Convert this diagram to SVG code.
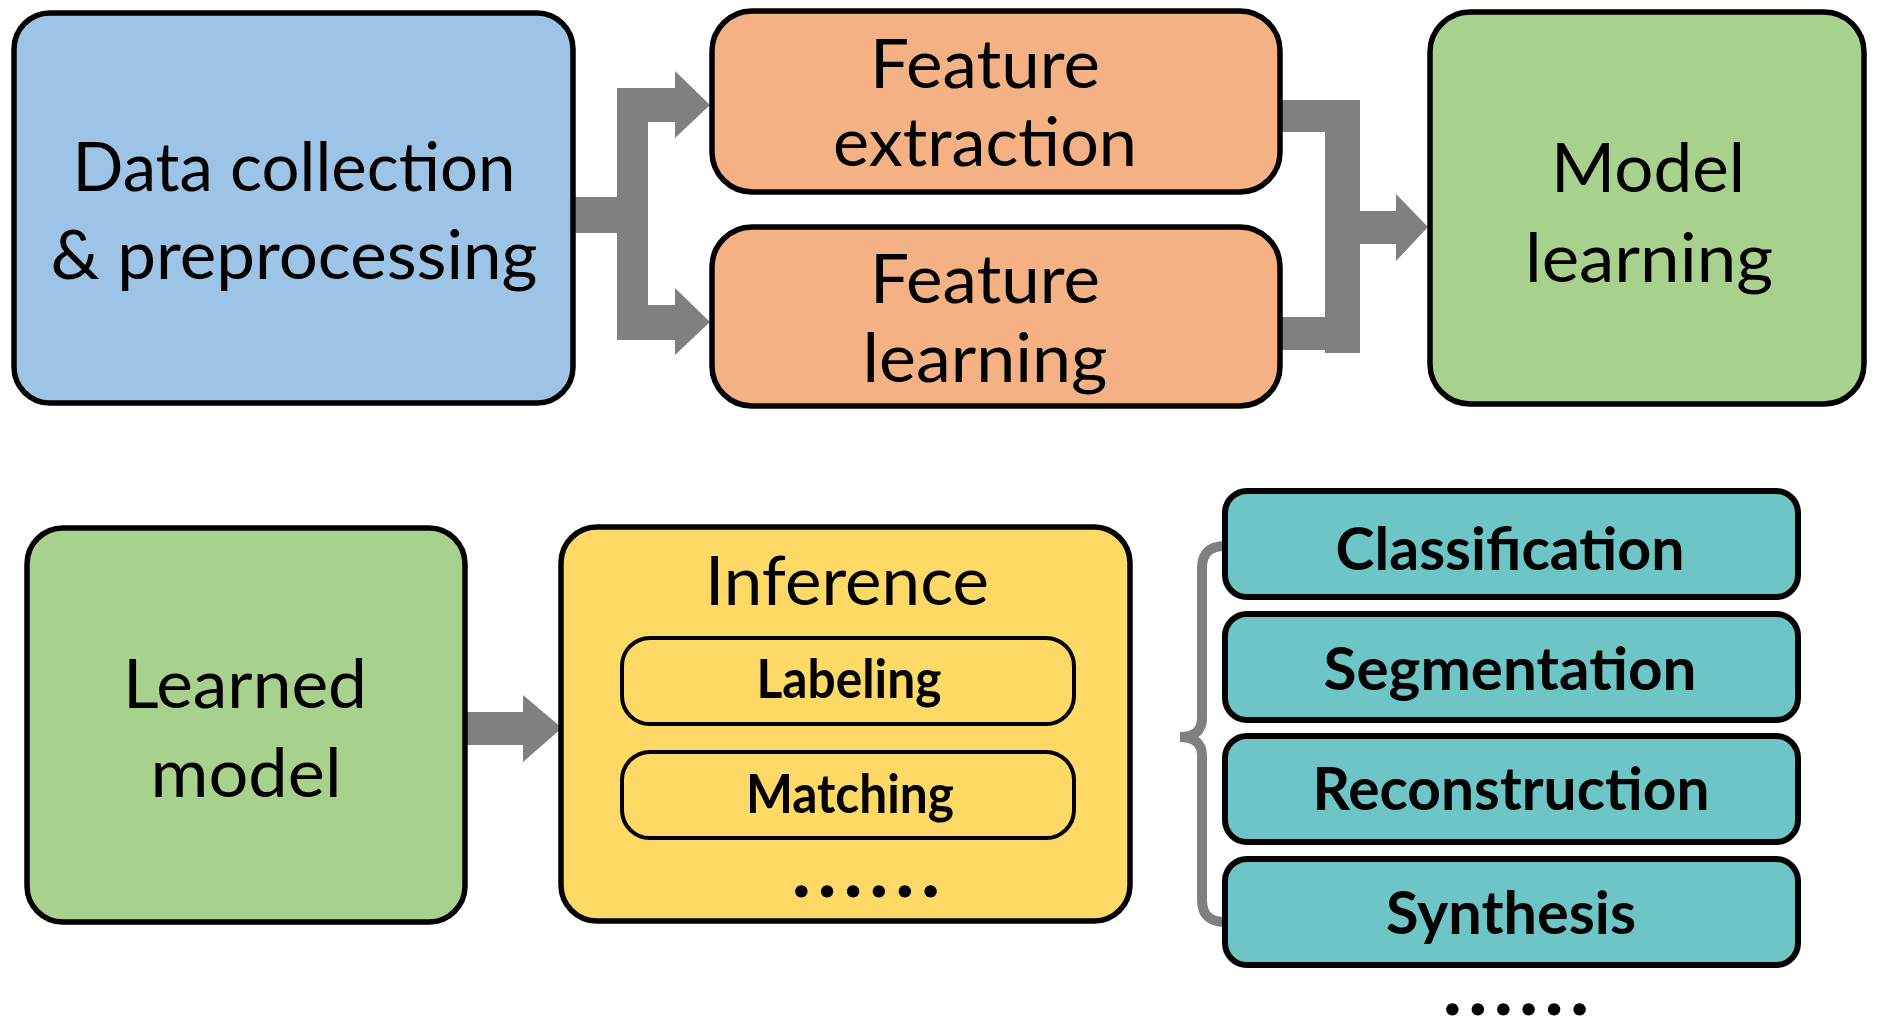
<svg xmlns="http://www.w3.org/2000/svg" width="1877" height="1021" viewBox="0 0 1877 1021">
<style>
.box{stroke:#000;stroke-width:5.5}
.inner{fill:none;stroke:#000;stroke-width:4}
.teal{fill:#6DC5C6;stroke:#000;stroke-width:6}
.t{font-family:Lato,"Open Sans","Liberation Sans",sans-serif;font-size:67px;fill:#000;text-anchor:middle}
.b{font-family:Lato,"Open Sans","Liberation Sans",sans-serif;font-size:60px;font-weight:bold;fill:#000;text-anchor:middle}
.s{font-size:53px}
.dots{font-family:Lato,"Open Sans","Liberation Sans",sans-serif;font-size:62px;font-weight:bold;fill:#000;stroke:#000;stroke-width:3;stroke-linejoin:round;text-anchor:middle}
.arrow{fill:#808080}
</style>
<rect width="1877" height="1021" fill="#fff"/>
<g id="connectors">
<path class="arrow" d="M572,197 H617 V88 H675 V71 L710,105 L675,138 V122 H648 V305 H675 V288 L710,322 L675,355 V340 H617 V233 H572 Z"/>
<path class="arrow" d="M1278,100 H1360 V211 H1396 V194 L1428,227 L1396,261 V244 H1360 V353 H1325 V350 H1278 V317 H1325 V132 H1278 Z"/>
<path class="arrow" d="M462,712 H523 V695 L562,728 L523,762 V745 H462 Z"/>
<path d="M1225,546 Q1202,546 1202,568 L1202,718 Q1202,737 1180,737 Q1202,737 1202,756 L1202,900 Q1202,922 1225,922" fill="none" stroke="#808080" stroke-width="10"/>
</g>
<g id="data-collection">
<rect class="box" x="14" y="13" width="559" height="390" rx="36" fill="#9DC3E6"/>
<text class="t" x="294" y="191" textLength="443" lengthAdjust="spacingAndGlyphs">Data collection</text>
<text class="t" x="294" y="279" textLength="487" lengthAdjust="spacingAndGlyphs">&amp; preprocessing</text>
</g>
<g id="feature-extraction">
<rect class="box" x="712" y="11" width="568" height="181" rx="40" fill="#F4B183"/>
<text class="t" x="985" y="88" textLength="230" lengthAdjust="spacingAndGlyphs">Feature</text>
<text class="t" x="985" y="166" textLength="304" lengthAdjust="spacingAndGlyphs">extraction</text>
</g>
<g id="feature-learning">
<rect class="box" x="712" y="227" width="568" height="179" rx="40" fill="#F4B183"/>
<text class="t" x="985" y="303" textLength="230" lengthAdjust="spacingAndGlyphs">Feature</text>
<text class="t" x="985" y="382" textLength="245" lengthAdjust="spacingAndGlyphs">learning</text>
</g>
<g id="model-learning">
<rect class="box" x="1430" y="12" width="434" height="392" rx="40" fill="#A9D18E"/>
<text class="t" x="1648" y="192" textLength="194" lengthAdjust="spacingAndGlyphs">Model</text>
<text class="t" x="1649" y="282" textLength="248" lengthAdjust="spacingAndGlyphs">learning</text>
</g>
<g id="learned-model">
<rect class="box" x="27" y="528" width="438" height="394" rx="36" fill="#A9D18E"/>
<text class="t" x="245" y="708" textLength="244" lengthAdjust="spacingAndGlyphs">Learned</text>
<text class="t" x="246" y="797" textLength="191" lengthAdjust="spacingAndGlyphs">model</text>
</g>
<g id="inference">
<rect class="box" x="561" y="527" width="569" height="394" rx="36" fill="#FFD966"/>
<text class="t" x="847" y="605" textLength="284" lengthAdjust="spacingAndGlyphs">Inference</text>
<g id="labeling">
<rect class="inner" x="622" y="638" width="452" height="86" rx="28"/>
<text class="b s" x="849" y="698" textLength="185" lengthAdjust="spacingAndGlyphs">Labeling</text>
</g>
<g id="matching">
<rect class="inner" x="622" y="752" width="452" height="86" rx="28"/>
<text class="b s" x="850" y="813" textLength="208" lengthAdjust="spacingAndGlyphs">Matching</text>
</g>
<text class="dots" x="866" y="896" textLength="144" lengthAdjust="spacing">......</text>
</g>
<g id="classification">
<rect class="teal" x="1225" y="491" width="573" height="106" rx="22"/>
<text class="b" x="1510" y="570" textLength="349" lengthAdjust="spacingAndGlyphs">Classification</text>
</g>
<g id="segmentation">
<rect class="teal" x="1225" y="614" width="573" height="106" rx="22"/>
<text class="b" x="1510" y="690" textLength="373" lengthAdjust="spacingAndGlyphs">Segmentation</text>
</g>
<g id="reconstruction">
<rect class="teal" x="1225" y="736" width="573" height="106" rx="22"/>
<text class="b" x="1511" y="810" textLength="397" lengthAdjust="spacingAndGlyphs">Reconstruction</text>
</g>
<g id="synthesis">
<rect class="teal" x="1225" y="859" width="573" height="106" rx="22"/>
<text class="b" x="1511" y="934" textLength="250" lengthAdjust="spacingAndGlyphs">Synthesis</text>
</g>
<text class="dots" x="1516" y="1014" textLength="142" lengthAdjust="spacing">......</text>
</svg>
